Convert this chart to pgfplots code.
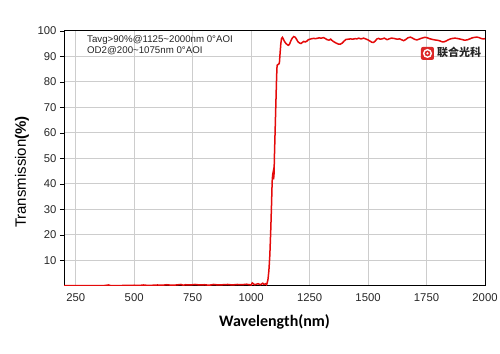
\documentclass[border=0pt]{standalone}
\usepackage{pgfplots}
\pgfplotsset{compat=1.18}
\usepackage{fontspec}
\setmainfont{Liberation Sans}
\newfontfamily\calibri{Carlito}
\newfontfamily\cjk{Noto Sans CJK SC}
\definecolor{curvered}{RGB}{228,10,10}
\definecolor{gridgray}{RGB}{205,205,205}
\definecolor{logored}{RGB}{220,40,40}
\begin{document}
\begin{tikzpicture}
\useasboundingbox (0,0) rectangle (500pt,353pt);
\begin{axis}[
  at={(64pt,67pt)}, anchor=south west, scale only axis,
  width=421pt, height=255pt,
  xmin=200, xmax=2000, ymin=0, ymax=100,
  xtick={250,500,...,2000}, ytick={10,20,...,100},
  xtick pos=bottom, ytick pos=left,
  grid=major, major grid style={draw=gridgray, line width=1pt},
  axis line style={black, line width=1pt},
  xtick style={draw=none}, ytick style={black, line width=0.8pt},
  tick align=outside, major tick length=4pt,
  ticklabel style={font=\fontsize{11.3}{13}\selectfont, text=black!85},
  /pgf/number format/assume math mode=true,
  /pgf/number format/1000 sep={},
  xlabel={\calibri\bfseries Wavelength(nm)},
  xlabel style={font=\fontsize{16}{18}\selectfont, at={(axis description cs:0.5,-0.141)}, anchor=center},
  ylabel={Transmission\textbf{(\%)}},
  ylabel style={font=\fontsize{15}{17}\selectfont, at={(axis description cs:-0.0998,0.447)}, anchor=center, rotate=0},
]
\addplot[curvered, line width=1.5pt] coordinates {
(200,0.1) (225,0.1) (250,0.1) (275,0.1) (300,0.1) (325,0.15) (350,0.1) (375,0.2) (390,0.4) (400,0.15)
(425,0.1) (450,0.2) (475,0.2) (500,0.3) (520,0.2) (540,0.4) (560,0.2) (580,0.3) (600,0.4) (620,0.3)
(640,0.5) (660,0.3) (680,0.4) (700,0.6) (710,0.3) (720,0.5) (740,0.4) (760,0.6) (780,0.4) (800,0.5)
(820,0.3) (840,0.6) (860,0.4) (880,0.5) (900,0.6) (920,0.4) (940,0.6) (960,0.5) (980,0.7) (1000,0.4)
(1005,1.2) (1015,0.5) (1030,0.9) (1040,0.5) (1050,1.1) (1055,0.6) (1062,0.9) (1066,0.5)
(1068,1.0) (1072,2.5) (1076,6) (1080,12) (1084,22) (1087,31) (1090,41) (1092,43.5) (1094,44.5)
(1096,41.8) (1098,44) (1100,52) (1103,62) (1106,72) (1109,82) (1111,86.5) (1114,86.8) (1118,87)
(1121,87.5) (1124,91.5) (1127,95) (1130,97) (1134,97.5) (1138,96.8) (1142,96.0) (1148,95.2)
(1155,94.6) (1160,94.4) (1165,95.0) (1170,96.2) (1176,97.2) (1182,97.8) (1188,97.6) (1194,96.8)
(1200,95.8) (1207,95.3) (1213,95.1) (1219,95.5) (1225,95.9) (1231,95.7) (1238,96.0) (1245,96.6)
(1252,96.8) (1260,97.0) (1268,97.1) (1275,97.0) (1281,97.1) (1290,97.3) (1300,97.2) (1310,97.4)
(1318,97.0) (1325,96.6) (1333,96.4) (1340,96.8) (1347,96.2) (1355,95.7) (1363,95.3) (1372,94.9)
(1381,94.8) (1390,95.3) (1398,96.1) (1406,96.7) (1417,96.8) (1425,96.9) (1435,96.8) (1445,97.0)
(1452,96.9) (1460,97.2) (1470,96.9) (1481,97.2) (1490,96.9) (1500,96.5) (1509,96.0) (1516,95.6)
(1523,95.5) (1530,96.0) (1538,96.9) (1545,97.1) (1552,96.8) (1560,96.9) (1570,97.2) (1581,96.6)
(1590,96.9) (1600,97.2) (1610,97.1) (1624,96.8) (1635,96.9) (1645,96.5) (1652,96.2) (1660,96.6)
(1670,97.3) (1681,97.6) (1690,97.2) (1700,96.7) (1709,96.5) (1718,96.8) (1730,97.2) (1742,97.5)
(1752,97.4) (1762,97.0) (1775,96.7) (1785,96.5) (1795,96.4) (1805,96.2) (1815,95.8) (1823,95.7)
(1832,96.0) (1842,96.5) (1852,96.9) (1862,97.1) (1872,97.2) (1880,97.1) (1890,96.9) (1900,96.7)
(1912,96.4) (1923,96.5) (1935,96.9) (1945,97.3) (1955,97.5) (1966,97.6) (1975,97.4) (1985,97.0)
(1994,96.9) (2000,97.0)
};
\node[anchor=north west, align=left, inner sep=0pt, font=\fontsize{9.7}{11}\selectfont, text=black!85]
  at (rel axis cs:0.0546,0.982)
  {Tavg>90\%@1125\textasciitilde 2000nm 0°AOI\\OD2@200\textasciitilde 1075nm 0°AOI};
\node[fill=logored, rounded corners=2pt, minimum size=13pt, inner sep=0pt] (logo) at (rel axis cs:0.8634,0.912) {};
\draw[white, line width=1.4pt] (logo.center) circle (3.8pt);
\fill[white] (logo.center) circle (1.2pt);
\node[anchor=west, inner sep=0pt, font=\cjk\bfseries\fontsize{11}{12}\selectfont, text=black!85] at (rel axis cs:0.886,0.918) {联合光科};
\end{axis}
\end{tikzpicture}
\end{document}
